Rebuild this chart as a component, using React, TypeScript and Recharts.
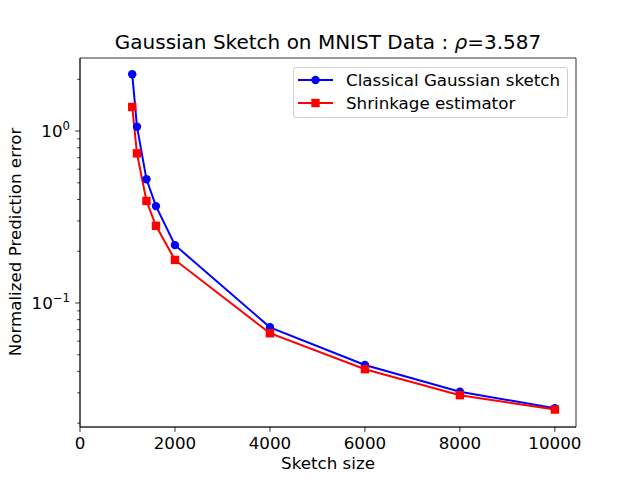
import React from "react";
import {
  LineChart,
  Line,
  XAxis,
  YAxis,
  ReferenceArea,
} from "recharts";

const sketchSizes = [1100, 1200, 1400, 1600, 2000, 4000, 6000, 8000, 10000];
const classicalErr = [2.14, 1.06, 0.524, 0.366, 0.217, 0.0722, 0.0436, 0.0305, 0.0244];
const shrinkageErr = [1.38, 0.742, 0.392, 0.281, 0.178, 0.0667, 0.0412, 0.0291, 0.024];

const xTicks = [0, 2000, 4000, 6000, 8000, 10000];
const yMajor = [0.1, 1];
const yMinor = [0.02, 0.03, 0.04, 0.05, 0.06, 0.07, 0.08, 0.09, 0.2, 0.3, 0.4, 0.5, 0.6, 0.7, 0.8, 0.9, 2];

const X_DOMAIN: [number, number] = [0, 10445];
const Y_DOMAIN: [number, number] = [0.019, 2.66];

const FONT = "'DejaVu Sans', sans-serif";
const FS = 16.7;

const data = sketchSizes.map((s, i) => ({
  size: s,
  classical: classicalErr[i],
  shrinkage: shrinkageErr[i],
}));

function YTick(props: any) {
  const { x, y, payload } = props;
  const v = payload.value;
  const major = yMajor.some((m) => Math.abs(m - v) < 1e-9);
  const len = major ? 4.9 : 2.8;
  const exp = Math.round(Math.log10(v));
  return (
    <g>
      <line x1={x} x2={x - len} y1={y} y2={y} stroke="#000" strokeWidth={0.8} />
      {major && (
        <text x={x - 10} y={y + 6} textAnchor="end" fontSize={FS} fontFamily={FONT} fill="#000">
          10
          <tspan dy={-7} fontSize={11.7}>
            {exp === 0 ? "0" : "\u2212" + Math.abs(exp)}
          </tspan>
        </text>
      )}
    </g>
  );
}

function XTick(props: any) {
  const { x, y, payload } = props;
  return (
    <g>
      <line x1={x} x2={x} y1={y} y2={y + 4.9} stroke="#000" strokeWidth={0.8} />
      <text x={x} y={y + 21.5} textAnchor="middle" fontSize={FS} fontFamily={FONT} fill="#000">
        {payload.value}
      </text>
    </g>
  );
}

function Square(props: any) {
  const { cx, cy } = props;
  if (cx == null || cy == null) return null;
  return <rect x={cx - 4.2} y={cy - 4.2} width={8.4} height={8.4} fill="#ff0000" />;
}

function LegendBox() {
  const rows = [
    { label: "Classical Gaussian sketch", color: "#0000ff", shape: "circle" },
    { label: "Shrinkage estimator", color: "#ff0000", shape: "square" },
  ];
  return (
    <div
      style={{
        position: "absolute",
        left: 293,
        top: 67,
        width: 275,
        height: 51,
        border: "1px solid #d0d0d0",
        borderRadius: 3,
        background: "rgba(255,255,255,0.8)",
        fontFamily: FONT,
        fontSize: FS,
        boxSizing: "border-box",
        paddingTop: 0,
      }}
    >
      {rows.map((r) => (
        <div key={r.label} style={{ display: "flex", alignItems: "center", height: 23 }}>
          <svg width={48} height={12} style={{ marginLeft: 4, flexShrink: 0 }}>
            <line x1={0} x2={35} y1={6} y2={6} stroke={r.color} strokeWidth={2} />
            {r.shape === "circle" ? (
              <circle cx={17.5} cy={6} r={4.2} fill={r.color} />
            ) : (
              <rect x={13.3} y={1.8} width={8.4} height={8.4} fill={r.color} />
            )}
          </svg>
          <span style={{ color: "#000", whiteSpace: "nowrap" }}>{r.label}</span>
        </div>
      ))}
    </div>
  );
}

export default function App() {
  return (
    <div style={{ position: "absolute", left: 0, top: 0, width: 640, height: 480, background: "#fff" }}>
      <LineChart
        width={640}
        height={480}
        data={data}
        margin={{ top: 58, right: 64, bottom: 23, left: 20 }}
      >
        <XAxis
          dataKey="size"
          type="number"
          domain={X_DOMAIN}
          ticks={xTicks}
          allowDataOverflow
          height={30}
          axisLine={{ stroke: "#000", strokeWidth: 0.8 }}
          tickLine={false}
          tickSize={0}
          tickMargin={0}
          tick={<XTick />}
          interval={0}
        />
        <YAxis
          type="number"
          scale="log"
          domain={Y_DOMAIN}
          allowDataOverflow
          ticks={[...yMinor, ...yMajor]}
          width={60}
          axisLine={{ stroke: "#000", strokeWidth: 0.8 }}
          tickLine={false}
          tickSize={0}
          tickMargin={0}
          tick={<YTick />}
          interval={0}
        />
        <ReferenceArea
          x1={X_DOMAIN[0]}
          x2={X_DOMAIN[1]}
          y1={Y_DOMAIN[0]}
          y2={Y_DOMAIN[1]}
          fill="none"
          stroke="#000"
          strokeWidth={0.8}
          ifOverflow="visible"
        />
        <Line
          dataKey="classical"
          stroke="#0000ff"
          strokeWidth={2}
          dot={{ r: 4.2, fill: "#0000ff", stroke: "none" }}
          activeDot={false}
          isAnimationActive={false}
        />
        <Line
          dataKey="shrinkage"
          stroke="#ff0000"
          strokeWidth={2}
          dot={<Square />}
          activeDot={false}
          isAnimationActive={false}
        />
      </LineChart>
      <div
        style={{
          position: "absolute",
          left: 0,
          width: 656,
          top: 31.4,
          textAlign: "center",
          fontFamily: FONT,
          fontSize: 20,
          lineHeight: "23.3px",
          color: "#000",
          whiteSpace: "nowrap",
        }}
      >
        Gaussian Sketch on MNIST Data : <i>ρ</i>=3.587
      </div>
      <div
        style={{
          position: "absolute",
          left: 0,
          width: 656,
          top: 454,
          textAlign: "center",
          fontFamily: FONT,
          fontSize: FS,
          lineHeight: "19.4px",
          color: "#000",
        }}
      >
        Sketch size
      </div>
      <div
        style={{
          position: "absolute",
          left: 16,
          top: 242,
          transform: "translate(-50%, -50%) rotate(-90deg)",
          whiteSpace: "nowrap",
          fontFamily: FONT,
          fontSize: FS,
          lineHeight: "19.4px",
          color: "#000",
        }}
      >
        Normalized Prediction error
      </div>
      <LegendBox />
    </div>
  );
}
